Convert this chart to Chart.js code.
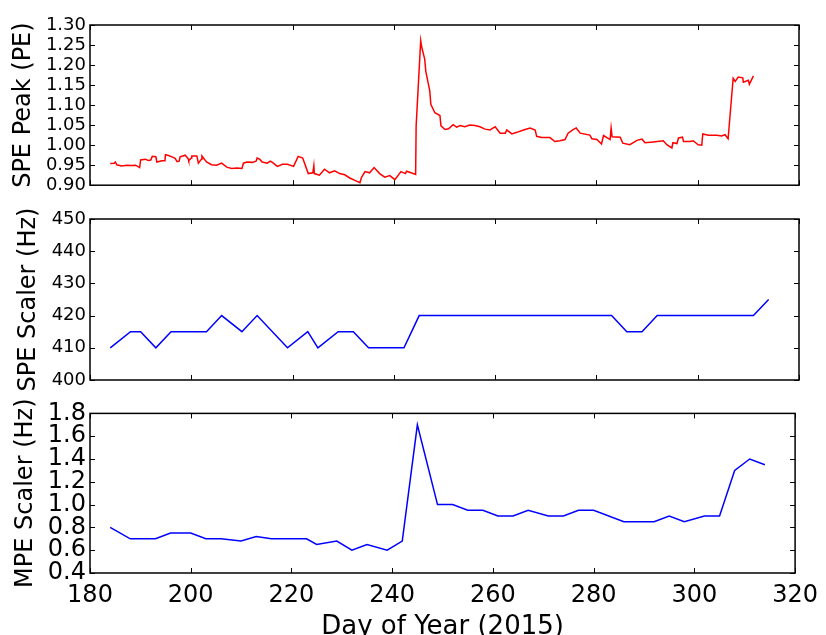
<!DOCTYPE html>
<html>
<head>
<meta charset="utf-8">
<script src="https://cdn.jsdelivr.net/npm/chart.js@4/dist/chart.umd.min.js"></script>
<style>
	html, body { margin: 0; padding: 0; background: #fff; }
	#wrap { position: relative; width: 826px; height: 635px; overflow: hidden; }
	.panel { position: absolute; left: 0; width: 826px; }
</style>
</head>
<body>
<div id="wrap">
	<div class="panel" style="top:0;height:200px"><canvas id="peakChart"></canvas></div>
	<div class="panel" style="top:200px;height:195px"><canvas id="speChart"></canvas></div>
	<div class="panel" style="top:395px;height:240px"><canvas id="mpeChart"></canvas></div>
</div>
<script>
// x axis (day of year) ticks shared by all panels
const dayTicks = [180, 200, 220, 240, 260, 280, 300, 320];

// SPE peak (PE), red trace
const peakDays = [
	184.0, 184.8, 185.0, 185.3, 186.2, 187.3, 188.2, 189.0, 189.8, 190.0,
	190.9, 191.5, 192.0, 192.3, 193.0, 193.2, 194.2, 194.8, 194.9, 195.5,
	196.3, 196.8, 197.2, 197.6, 197.8, 198.8, 199.4, 199.5, 200.0, 200.1,
	201.1, 201.4, 202.0, 202.1, 203.0, 204.0, 205.0, 206.0, 207.0, 208.0,
	209.0, 210.0, 210.3, 211.0, 212.0, 212.8, 213.0, 213.5, 214.0, 215.0,
	215.6, 216.0, 217.0, 218.0, 219.0, 220.2, 221.1, 222.0, 223.1, 224.0,
	224.2, 224.3, 225.3, 226.3, 227.3, 228.3, 229.3, 230.3, 231.3, 232.3,
	233.3, 233.6, 234.3, 235.2, 236.1, 237.2, 238.2, 239.2, 240.2, 241.4,
	242.3, 242.5, 243.4, 244.3, 244.4, 245.3, 245.5, 246.1, 246.3, 247.1,
	247.3, 248.1, 249.1, 249.3, 250.1, 250.8, 251.7, 252.4, 253.1, 254.0,
	255.0, 256.0, 257.0, 258.0, 259.0, 260.0, 261.0, 262.0, 262.3, 263.3,
	264.3, 265.6, 266.9, 267.9, 268.2, 269.2, 270.8, 271.8, 272.8, 273.8,
	274.4, 275.4, 276.0, 276.8, 278.7, 279.1, 280.1, 281.0, 281.4, 282.7,
	282.9, 283.1, 284.7, 285.2, 286.6, 288.0, 289.0, 289.6, 291.2, 293.2,
	293.9, 294.9, 295.1, 295.9, 296.2, 297.0, 297.2, 298.5, 299.1, 300.1,
	300.8, 301.0, 302.1, 303.8, 304.7, 305.4, 306.0, 307.0, 307.4, 308.0,
	308.9, 309.0, 310.0, 310.2, 311.0
];
const peakValues = [
	0.954, 0.955, 0.958, 0.951, 0.948, 0.950, 0.949, 0.950, 0.944, 0.963,
	0.965, 0.962, 0.963, 0.972, 0.971, 0.958, 0.961, 0.961, 0.976, 0.974,
	0.970, 0.967, 0.959, 0.960, 0.971, 0.975, 0.966, 0.961, 0.968, 0.973,
	0.973, 0.955, 0.965, 0.973, 0.958, 0.951, 0.950, 0.955, 0.945, 0.942,
	0.943, 0.942, 0.955, 0.958, 0.957, 0.960, 0.968, 0.965, 0.958, 0.955,
	0.960, 0.957, 0.947, 0.952, 0.952, 0.947, 0.972, 0.968, 0.929, 0.931,
	0.949, 0.929, 0.925, 0.940, 0.931, 0.936, 0.929, 0.926, 0.918, 0.912,
	0.906, 0.919, 0.934, 0.931, 0.944, 0.929, 0.920, 0.924, 0.914, 0.934,
	0.929, 0.935, 0.931, 0.927, 1.048, 1.261, 1.245, 1.214, 1.185, 1.135,
	1.102, 1.081, 1.074, 1.048, 1.039, 1.041, 1.051, 1.045, 1.049, 1.046,
	1.050, 1.049, 1.046, 1.040, 1.038, 1.046, 1.030, 1.030, 1.038, 1.028,
	1.032, 1.038, 1.043, 1.038, 1.022, 1.019, 1.019, 1.009, 1.011, 1.014,
	1.030, 1.039, 1.043, 1.030, 1.025, 1.016, 1.014, 1.003, 1.024, 1.014,
	1.043, 1.021, 1.020, 1.005, 1.001, 1.012, 1.015, 1.006, 1.008, 1.011,
	1.001, 0.993, 1.006, 1.004, 1.018, 1.020, 1.009, 1.009, 1.011, 1.001,
	1.000, 1.028, 1.025, 1.025, 1.023, 1.026, 1.016, 1.167, 1.159, 1.170,
	1.168, 1.157, 1.162, 1.152, 1.173
];

// SPE scaler (Hz)
const speDays = [184, 188, 190, 193, 196, 203, 206, 210, 213, 219, 223, 225, 229, 232, 235, 242, 245, 283, 286, 289, 292, 311, 314];
const speValues = [410, 415, 415, 410, 415, 415, 420, 415, 420, 410, 415, 410, 415, 415, 410, 410, 420, 420, 415, 415, 420, 420, 425];

// MPE scaler (Hz)
const mpeDays = [
	184, 188, 193, 196, 200, 203, 206, 210, 213, 216, 223, 225, 229, 232, 235, 239, 242,
	245, 249, 252, 255, 258, 261, 264, 267, 271, 274, 277, 280, 286, 292, 295, 298, 302,
	305, 308, 311, 314
];
const mpeValues = [
	0.80, 0.70, 0.70, 0.75, 0.75, 0.70, 0.70, 0.68, 0.72, 0.70, 0.70, 0.65, 0.68, 0.60, 0.65, 0.60, 0.68,
	1.70, 1.00, 1.00, 0.95, 0.95, 0.90, 0.90, 0.95, 0.90, 0.90, 0.95, 0.95, 0.85, 0.85, 0.90, 0.85, 0.90,
	0.90, 1.30, 1.40, 1.35
];

const FONT = 'DejaVu Sans';

// matplotlib-like box with inward ticks on all four sides
const framePlugin = {
	id: 'frame',
	afterDatasetsDraw(chart) {
		const { ctx, chartArea: a, scales } = chart;
		const x = scales.x, y = scales.y;
		ctx.save();
		ctx.strokeStyle = '#000';
		ctx.lineWidth = 1;
		ctx.beginPath();
		x.ticks.forEach(t => {
			const px = Math.round(x.getPixelForValue(t.value)) + 0.5;
			ctx.moveTo(px, a.bottom); ctx.lineTo(px, a.bottom - 5);
			ctx.moveTo(px, a.top); ctx.lineTo(px, a.top + 5);
		});
		y.ticks.forEach(t => {
			const py = Math.round(y.getPixelForValue(t.value)) + 0.5;
			ctx.moveTo(a.left, py); ctx.lineTo(a.left + 5, py);
			ctx.moveTo(a.right, py); ctx.lineTo(a.right - 5, py);
		});
		ctx.stroke();
		ctx.lineWidth = 1.5;
		ctx.strokeRect(a.left, a.top, a.right - a.left, a.bottom - a.top);
		ctx.restore();
	}
};

function makePanel(id, days, values, color, opts) {
	const ctx = document.getElementById(id).getContext('2d');
	return new Chart(ctx, {
		type: 'line',
		data: {
			datasets: [{
				data: days.map((d, i) => ({ x: d, y: values[i] })),
				borderColor: color,
				borderWidth: 1.5,
				pointRadius: 0,
				tension: 0,
				fill: false,
			}]
		},
		options: {
			responsive: true,
			maintainAspectRatio: false,
			animation: false,
			layout: { padding: opts.padding },
			plugins: { legend: { display: false }, tooltip: { enabled: false } },
			scales: {
				x: {
					type: 'linear',
					min: dayTicks[0],
					max: dayTicks[dayTicks.length - 1],
					afterBuildTicks: s => { s.ticks = dayTicks.map(v => ({ value: v })); },
					grid: { display: false, drawTicks: false },
					border: { display: false },
					ticks: {
						display: opts.showX,
						autoSkip: false,
						color: '#000',
						padding: 8,
						maxRotation: 0,
						font: { family: FONT, size: 24 },
					},
					title: {
						display: opts.showX,
						text: 'Day of Year (2015)',
						color: '#000',
						padding: { top: 0, bottom: -8 },
						font: { family: FONT, size: 26 },
					},
					afterFit: s => { s.height = opts.xHeight; },
				},
				y: {
					min: opts.yMin,
					max: opts.yMax,
					grid: { display: false, drawTicks: false },
					border: { display: false },
					ticks: {
						stepSize: opts.yStep,
						autoSkip: false,
						color: '#000',
						padding: 4,
						font: { family: FONT, size: opts.yTickSize },
						callback: v => opts.yFormat(v),
					},
					title: {
						display: true,
						text: opts.yTitle,
						color: '#000',
						padding: { top: opts.titlePad, bottom: 0 },
						font: { family: FONT, size: 24 },
					},
					afterFit: s => { s.width = 90; },
				}
			}
		},
		plugins: [framePlugin]
	});
}

makePanel('peakChart', peakDays, peakValues, '#ff0000', {
	padding: { top: 25, right: 27, bottom: 14, left: 0 },
	showX: false, xHeight: 0,
	yMin: 0.9, yMax: 1.3, yStep: 0.05, yTickSize: 18,
	yFormat: v => v.toFixed(2),
	yTitle: 'SPE Peak (PE)', titlePad: 9,
});

makePanel('speChart', speDays, speValues, '#0000ff', {
	padding: { top: 19, right: 27, bottom: 15, left: 0 },
	showX: false, xHeight: 0,
	yMin: 400, yMax: 450, yStep: 10, yTickSize: 18,
	yFormat: v => v.toFixed(0),
	yTitle: 'SPE Scaler (Hz)', titlePad: 14,
});

makePanel('mpeChart', mpeDays, mpeValues, '#0000ff', {
	padding: { top: 18, right: 27, bottom: 0, left: 0 },
	showX: true, xHeight: 62,
	yMin: 0.4, yMax: 1.8, yStep: 0.2, yTickSize: 24,
	yFormat: v => v.toFixed(1),
	yTitle: 'MPE Scaler (Hz)', titlePad: 11,
});
</script>
</body>
</html>
